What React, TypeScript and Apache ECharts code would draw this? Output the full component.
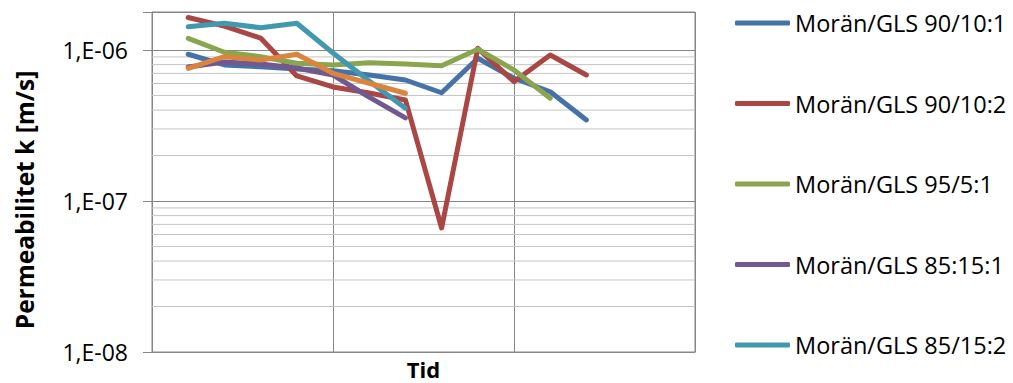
import React, { useEffect, useRef } from "react";
import * as echarts from "echarts";

// Time index (position along the "Tid" axis)
const timeIndex = [1, 2, 3, 4, 5, 6, 7, 8, 9, 10, 11, 12];

const seriesNames = [
  "Morän/GLS 90/10:1",
  "Morän/GLS 90/10:2",
  "Morän/GLS 95/5:1",
  "Morän/GLS 85:15:1",
  "Morän/GLS 85/15:2",
  "Morän/GLS 85/15:3",
];

const seriesColors = ["#4572A7", "#AA4643", "#89A54E", "#71588F", "#4198AF", "#DB843D"];

// permeability values [m/s]
const moran90_10_1 = [9.37e-7, 7.96e-7, 7.75e-7, 7.48e-7, 7.29e-7, 6.83e-7, 6.33e-7, 5.21e-7, 8.81e-7, 6.5e-7, 5.29e-7, 3.44e-7];
const moran90_10_2 = [1.64e-6, 1.44e-6, 1.2e-6, 6.73e-7, 5.69e-7, 5.19e-7, 4.67e-7, 6.63e-8, 1.026e-6, 6.17e-7, 9.27e-7, 6.83e-7];
const moran95_5_1 = [1.195e-6, 9.66e-7, 9.03e-7, 8.16e-7, 7.96e-7, 8.24e-7, 8.08e-7, 7.87e-7, 1.011e-6, 7.37e-7, 4.79e-7, null];
const moran85_15_1 = [7.72e-7, 8.33e-7, 8.08e-7, 7.6e-7, 6.83e-7, 4.88e-7, 3.55e-7, null, null, null, null, null];
const moran85_15_2 = [1.427e-6, 1.503e-6, 1.405e-6, 1.503e-6, 9.55e-7, 6.23e-7, 4.12e-7, null, null, null, null, null];
const moran85_15_3 = [7.56e-7, 9.03e-7, 8.59e-7, 9.37e-7, 7.01e-7, 6.02e-7, 5.17e-7, null, null, null, null, null];

const allValues = [moran90_10_1, moran90_10_2, moran95_5_1, moran85_15_1, moran85_15_2, moran85_15_3];

// minor gridline values of the log axis
const minorGridValues = [
  2e-8, 3e-8, 4e-8, 5e-8, 6e-8, 7e-8, 8e-8, 9e-8,
  2e-7, 3e-7, 4e-7, 5e-7, 6e-7, 7e-7, 8e-7, 9e-7,
];

const yMin = 1e-8;
const yMax = 1.785e-6;
const xMin = 0;
const xMax = 15;
const xInterval = 5;

const FONT = "'Open Sans', 'DejaVu Sans', sans-serif";

export default function App() {
  const ref = useRef<HTMLDivElement>(null);

  useEffect(() => {
    if (!ref.current) return;
    const chart = echarts.init(ref.current, undefined, { renderer: "svg" });

    const lineSeries = allValues.map((vals, i) => ({
      name: seriesNames[i],
      type: "line",
      data: timeIndex.map((t, j) => (vals[j] == null ? null : [t, vals[j]])).filter((d) => d != null),
      showSymbol: false,
      symbol: "none",
      z: 3,
      silent: true,
      lineStyle: { color: seriesColors[i], width: 5, cap: "round", join: "round" },
      itemStyle: { color: seriesColors[i] },
    }));

    const minorSeries = minorGridValues.map((v) => ({
      name: "minor",
      type: "line",
      data: [
        [xMin, v],
        [xMax, v],
      ],
      showSymbol: false,
      symbol: "none",
      silent: true,
      z: 1,
      lineStyle: { color: "#c4c4c4", width: 1 },
      emphasis: { disabled: true },
    }));

    chart.setOption({
      animation: false,
      backgroundColor: "#ffffff",
      textStyle: { fontFamily: FONT },
      grid: {
        left: 152,
        top: 12,
        width: 543,
        height: 340,
        show: true,
        borderColor: "#868686",
        borderWidth: 1,
        backgroundColor: "transparent",
        outerBoundsMode: "none",
        containLabel: false,
      },
      legend: {
        orient: "vertical",
        left: 730,
        top: 3,
        data: seriesNames.slice(0, 5),
        icon: "roundRect",
        itemWidth: 55,
        itemHeight: 5,
        itemGap: 50.5,
        textStyle: { fontFamily: FONT, fontSize: 23.5, color: "#000", lineHeight: 30 },
        selectedMode: false,
      },
      graphic: [
        {
          type: "text",
          x: 24,
          y: 200,
          rotation: Math.PI / 2,
          silent: true,
          style: {
            text: "Permeabilitet k [m/s]",
            fontFamily: FONT,
            fontSize: 24.5,
            fontWeight: "bold",
            fill: "#000",
            align: "center",
            verticalAlign: "middle",
          },
        },
      ],
      xAxis: {
        type: "value",
        min: xMin,
        max: xMax,
        interval: xInterval,
        name: "Tid",
        nameLocation: "middle",
        nameGap: 6,
        nameTextStyle: { fontFamily: FONT, fontSize: 22, fontWeight: "bold", color: "#000" },
        axisLine: { lineStyle: { color: "#868686", width: 1 } },
        axisTick: { show: false },
        axisLabel: { show: false },
        splitLine: { show: true, lineStyle: { color: "#868686", width: 1 } },
      },
      yAxis: {
        type: "log",
        logBase: 10,
        min: yMin,
        max: yMax,
        interval: 1,
        axisLine: { show: true, lineStyle: { color: "#868686", width: 1 } },
        axisTick: { show: true, length: 9, lineStyle: { color: "#868686" } },
        axisLabel: {
          margin: 24,
          fontFamily: FONT,
          fontSize: 23,
          color: "#000",
          formatter: (v: number) => {
            const e = Math.round(Math.log10(v));
            if (Math.abs(Math.log10(v) - e) > 1e-6) return "";
            const s = String(Math.abs(e)).padStart(2, "0");
            return `1,E${e < 0 ? "-" : "+"}${s}`;
          },
        },
        splitLine: { show: true, lineStyle: { color: "#868686", width: 1 } },
      },
      series: [...minorSeries, ...lineSeries],
    });

    return () => chart.dispose();
  }, []);

  return (
    <div
      ref={ref}
      style={{ position: "fixed", left: 0, top: 0, width: 1013, height: 383, background: "#fff" }}
    />
  );
}
